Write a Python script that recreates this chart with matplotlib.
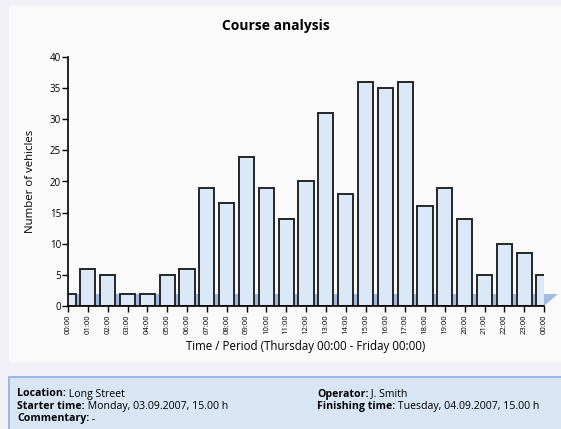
import matplotlib.pyplot as plt
from matplotlib.patches import Rectangle, Polygon

# Data
hours = list(range(25))
hour_labels = ["%02d:00" % (h % 24) for h in hours]
vehicles = [2, 6, 5, 2, 2, 5, 6, 19, 16.5, 24, 19, 14, 20, 31, 18,
            36, 35, 36, 16, 19, 14, 5, 10, 8.5, 5]

info_left = [("Location:", " Long Street"),
             ("Starter time:", " Monday, 03.09.2007, 15.00 h"),
             ("Commentary:", " -")]
info_right = [("Operator:", " J. Smith"),
              ("Finishing time:", " Tuesday, 04.09.2007, 15.00 h")]

plt.rcParams['font.family'] = ['Open Sans', 'DejaVu Sans']

fig = plt.figure(figsize=(5.61, 4.29), dpi=100)
fig.patch.set_facecolor('#f0f0f6')

# white chart panel and info box
fig.patches.append(Rectangle((9/561, 1-362/429), 552/561, 356/429,
                             transform=fig.transFigure, facecolor='#fafafa',
                             edgecolor='none', zorder=-5))
fig.patches.append(Rectangle((9/561, -0.01), 560/561, (429-377)/429 + 0.01,
                             transform=fig.transFigure, facecolor='#d7e5f5',
                             edgecolor='#8fb0de', linewidth=1.2, zorder=-5))

ax = fig.add_axes([68/561, 1-306/429, 476/561, 249/429])
ax.set_zorder(2)
ax.set_facecolor('none')

# floor band
ax.add_patch(Rectangle((0, 0), 24, 1.9, facecolor='#a3bbe2', edgecolor='none', zorder=1))
ax.add_patch(Polygon([(24, 0), (24, 1.9), (24.7, 1.9), (24, 0)], closed=True,
                     facecolor='#a3bbe2', edgecolor='none', zorder=1, clip_on=False))

ax.bar(hours, vehicles, width=0.77, color='#dbe8f8', edgecolor='#262626',
       linewidth=1.4, zorder=2)

ax.set_xlim(0, 24)
ax.set_ylim(0, 40)
ax.set_yticks(range(0, 41, 5))
ax.set_xticks(hours)
ax.set_xticklabels(hour_labels, rotation=90, fontsize=5.6)
ax.tick_params(axis='y', labelsize=7, length=4, width=1, pad=1)
ax.tick_params(axis='x', length=4, width=1, pad=2)
for s in ['top', 'right']:
    ax.spines[s].set_visible(False)
for s in ['left', 'bottom']:
    ax.spines[s].set_linewidth(1.2)

ax.set_ylabel("Number of vehicles", fontsize=8.2, labelpad=10)
ax.set_xlabel("Time / Period (Thursday 00:00 - Friday 00:00)", fontsize=8.3, labelpad=4)

fig.text(276/561, 1-26/429, "Course analysis", ha='center', va='center',
         fontsize=10, fontweight='bold')

# info text
def info_line(x, y, key, val):
    t = fig.text(x/561, y, key, fontsize=7.6, fontweight='bold', va='baseline')
    fig.canvas.draw()
    bb = t.get_window_extent()
    fig.text(bb.x1/561, y, val, fontsize=7.6, va='baseline')

for i, (k, v) in enumerate(info_left):
    info_line(17, 1 - (396.5 + i*12.5) / 429, k, v)
for i, (k, v) in enumerate(info_right):
    info_line(317, 1 - (396.5 + i*12.5) / 429, k, v)

fig.savefig("out.png", dpi=100, facecolor=fig.get_facecolor())
